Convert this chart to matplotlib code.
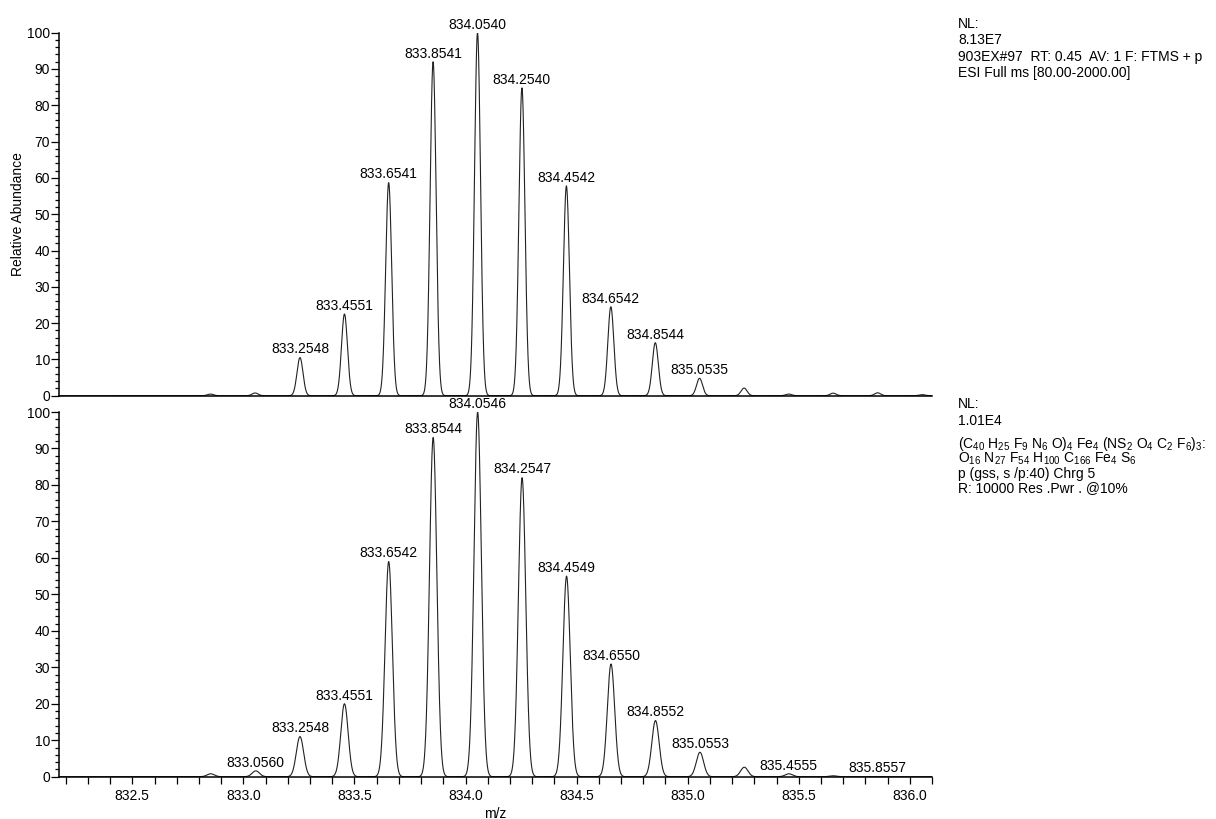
import numpy as np
import matplotlib
matplotlib.use("Agg")
import matplotlib.pyplot as plt
from matplotlib.ticker import MultipleLocator, FormatStrFormatter

plt.rcParams['font.family'] = ['Liberation Sans', 'DejaVu Sans']
plt.rcParams['mathtext.fontset'] = 'custom'
plt.rcParams['mathtext.rm'] = 'Liberation Sans'
plt.rcParams['mathtext.it'] = 'Liberation Sans:italic'

# measured spectrum (top panel): peak m/z, relative abundance, label shown
meas_mz = [832.852, 833.053, 833.2548, 833.4551, 833.6541, 833.8541, 834.0540, 834.2540,
           834.4542, 834.6542, 834.8544, 835.0535, 835.254, 835.455, 835.655, 835.855, 836.056]
meas_int = [0.45, 0.75, 10.5, 22.5, 58.7, 92.0, 100.0, 84.8,
            57.8, 24.5, 14.6, 4.8, 2.1, 0.45, 0.7, 0.8, 0.3]
meas_lab = [0, 0, 1, 1, 1, 1, 1, 1, 1, 1, 1, 1, 0, 0, 0, 0, 0]

# simulated isotope pattern (bottom panel)
sim_mz = [832.853, 833.0560, 833.2548, 833.4551, 833.6542, 833.8544, 834.0546, 834.2547,
          834.4549, 834.6550, 834.8552, 835.0553, 835.255, 835.4555, 835.655, 835.8557]
sim_int = [0.8, 1.6, 11.0, 20.0, 59.0, 93.0, 100.0, 82.0,
           55.0, 30.9, 15.4, 6.7, 2.6, 0.8, 0.25, 0.05]
sim_lab = [0, 1, 1, 1, 1, 1, 1, 1, 1, 1, 1, 1, 0, 1, 0, 1]

top_info = ["NL:", "8.13E7", "903EX#97  RT: 0.45  AV: 1 F: FTMS + p", "ESI Full ms [80.00-2000.00]"]
bot_info = ["NL:", "1.01E4",
            r"(C$\mathregular{_{40}}$ H$\mathregular{_{25}}$ F$\mathregular{_{9}}$ N$\mathregular{_{6}}$ O)$\mathregular{_{4}}$ "
            r"Fe$\mathregular{_{4}}$ (NS$\mathregular{_{2}}$ O$\mathregular{_{4}}$ C$\mathregular{_{2}}$ F$\mathregular{_{6}}$)$\mathregular{_{3}}$:",
            r"O$\mathregular{_{16}}$ N$\mathregular{_{27}}$ F$\mathregular{_{54}}$ H$\mathregular{_{100}}$ C$\mathregular{_{166}}$ "
            r"Fe$\mathregular{_{4}}$ S$\mathregular{_{6}}$",
            "p (gss, s /p:40) Chrg 5",
            "R: 10000 Res .Pwr . @10%"]

xmin, xmax = 832.17, 836.1
fs = 10


def profile(x, centers, heights, sigma):
    y = np.zeros_like(x)
    for c, h in zip(centers, heights):
        y += h * np.exp(-0.5 * ((x - c) / sigma) ** 2)
    return y


W, H = 1216, 819
fig = plt.figure(figsize=(W / 100, H / 100), dpi=100)
ax1 = fig.add_axes([59 / W, 1 - 395.7 / H, 873 / W, 363 / H])
ax2 = fig.add_axes([59 / W, 1 - 776.7 / H, 873 / W, 364.7 / H])

x = np.linspace(xmin, xmax, 6000)
panels = [(ax1, meas_mz, meas_int, meas_lab, 0.0135),
          (ax2, sim_mz, sim_int, sim_lab, 0.0165)]

for ax, mz, inten, lab, sig in panels:
    ax.plot(x, profile(x, mz, inten, sig), color='#222222', lw=0.8)
    for m, h, l in zip(mz, inten, lab):
        if l:
            ax.annotate("%.4f" % m, (m, h), xytext=(0, 3), textcoords='offset points',
                        ha='center', va='baseline', fontsize=fs, annotation_clip=False)
    ax.set_xlim(xmin, xmax)
    ax.set_ylim(0, 100)
    for s in ['top', 'right']:
        ax.spines[s].set_visible(False)
    for s in ['left', 'bottom']:
        ax.spines[s].set_linewidth(1.1)
    ax.yaxis.set_major_locator(MultipleLocator(10))
    ax.yaxis.set_minor_locator(MultipleLocator(2))
    ax.tick_params(axis='y', which='major', length=6, width=0.9, pad=0.5, labelsize=fs)
    ax.tick_params(axis='y', which='minor', length=3, width=0.9)

ax1.tick_params(axis='x', which='both', bottom=False, labelbottom=False)
ax2.xaxis.set_major_locator(MultipleLocator(0.5))
ax2.xaxis.set_minor_locator(MultipleLocator(0.1))
ax2.xaxis.set_major_formatter(FormatStrFormatter('%.1f'))
ax2.tick_params(axis='x', which='both', length=5, width=0.9, pad=4, labelsize=fs)
ax2.set_xlabel("m/z", fontsize=fs, labelpad=3)

fig.text(18 / W, 1 - 214 / H, "Relative Abundance", rotation=90, ha='center', va='center', fontsize=fs)

# header text blocks to the right of each panel (same offset above each axes)
for t, yb in zip(top_info, [28, 44, 61, 77]):
    fig.text(958 / W, 1 - yb / H, t, ha='left', va='baseline', fontsize=fs)
for t, yb in zip(bot_info, [408, 425, 448, 463, 478, 492]):
    fig.text(958 / W, 1 - yb / H, t, ha='left', va='baseline', fontsize=fs)

fig.savefig("out.png", dpi=100)
